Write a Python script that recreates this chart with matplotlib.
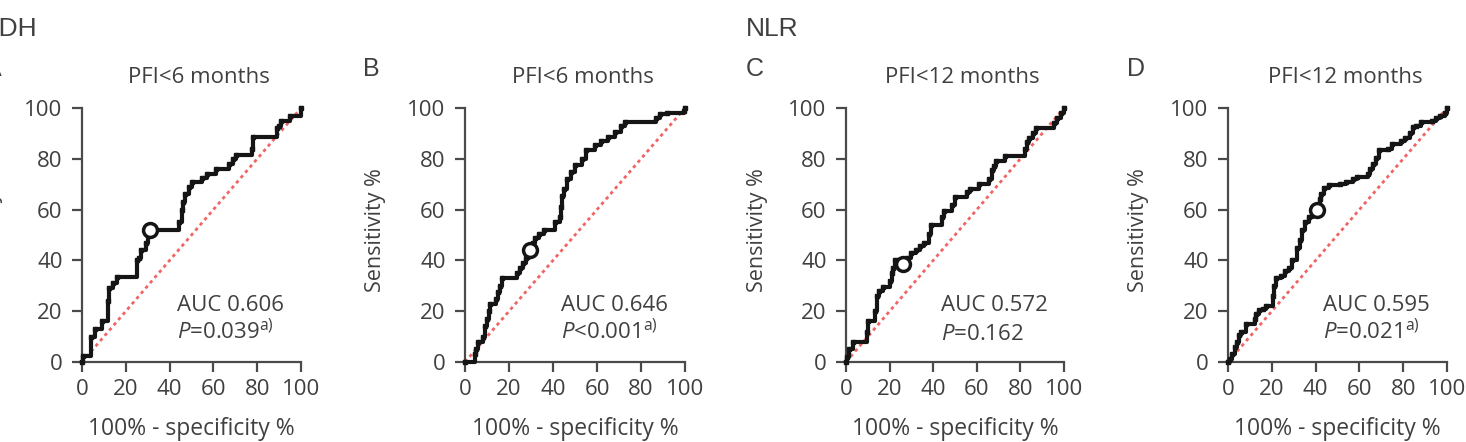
import matplotlib.pyplot as plt

plt.rcParams['font.family'] = ['Open Sans', 'DejaVu Sans']
plt.rcParams['mathtext.fontset'] = 'custom'
plt.rcParams['mathtext.rm'] = 'Open Sans'
plt.rcParams['mathtext.it'] = 'Open Sans:italic'

# ROC curves, (100% - specificity, sensitivity) at each step
fpr_a = [0, 0.5, 4, 6, 9, 12, 12.5, 14, 16, 25, 26, 27, 29, 30, 31.5, 44.5, 45.5, 46, 47, 49,
         50, 55, 57, 61, 67, 69, 70.5, 77.5, 78, 89, 90, 91, 95, 100]
tpr_a = [0, 2.5, 10, 13, 16, 24, 29, 31, 33.5, 40, 41, 44, 47, 50, 52, 55, 60, 63, 66, 69,
         71, 72.5, 74, 76, 78, 80, 81.5, 84, 88.5, 92, 93, 95, 97, 100]

fpr_b = [0, 4.5, 5, 6, 8, 9, 10, 11, 11.5, 14, 15, 16, 17, 23.5, 25, 26.5, 27.5, 29, 30, 31,
         32, 33.5, 36, 41, 43, 43.5, 44, 45, 46.5, 48, 50, 53, 55, 59, 62, 65, 68, 71, 72.5,
         87, 88.5, 92, 99.5, 100]
tpr_b = [0, 3, 5, 8, 10, 14, 17, 20, 23, 25, 27.5, 30, 33, 35, 37, 39, 41, 43, 45, 47,
         49, 50.5, 52, 55, 57, 61, 65.5, 68, 72, 75, 77.5, 80, 83.5, 85.5, 87, 88.5, 90.5, 93, 94.5,
         96, 97.5, 98, 99, 100]

fpr_c = [0, 0.5, 1.5, 3, 9.5, 10, 13.5, 14, 15, 17, 20, 21, 21.5, 22.5, 28, 30, 32, 34, 36, 38,
         39, 44, 45, 48.5, 50, 55.5, 57, 61, 65.5, 67, 68, 69, 73, 82, 83, 84, 86, 87, 95.5,
         97, 98.5, 100]
tpr_c = [0, 2, 5, 8, 12, 16, 20, 26, 28, 29.5, 32, 35, 37, 40, 41, 43, 44, 45.5, 47, 50.5,
         54, 57, 59.5, 62, 65, 67, 68, 70, 72, 75.5, 77, 79, 81, 84, 86.5, 88, 90, 92, 94,
         96, 98, 100]

fpr_d = [0, 1, 2, 3, 4, 5, 6, 8, 12.5, 13, 14, 16, 17.5, 20.5, 21, 22, 24, 26, 28, 29,
         31.5, 33, 34, 35, 37, 39, 41, 42, 42.5, 44, 46, 51, 54, 57, 59, 64, 65, 66, 67.5, 69,
         73, 75, 79, 81, 83, 84.5, 86, 88, 93, 95, 97, 99, 100]
tpr_d = [0, 1, 3, 6, 8, 10.5, 12, 15, 17, 19, 20.5, 21, 22, 26, 30, 33, 34, 36, 37, 40,
         45, 48, 52, 55, 57, 59, 62, 64, 66, 68.5, 69.5, 70, 71, 72, 73, 74, 76, 78, 80.5, 83.5,
         84, 86, 87, 88, 90, 92.5, 93, 94.5, 95, 96, 97, 98, 100]

cut_x = [31.2, 29.4, 26, 40.5]
cut_y = [51.8, 44, 38.5, 60]

chance = [0, 100]
titles = ['PFI<6 months', 'PFI<6 months', 'PFI<12 months', 'PFI<12 months']
auc = ['AUC 0.606', 'AUC 0.646', 'AUC 0.572', 'AUC 0.595']
pvals = [r'$\mathit{P}$=0.039$^{\mathrm{a)}}$', r'$\mathit{P}$<0.001$^{\mathrm{a)}}$',
         r'$\mathit{P}$=0.162', r'$\mathit{P}$=0.021$^{\mathrm{a)}}$']
letters = ['A', 'B', 'C', 'D']
ticks = [0, 20, 40, 60, 80, 100]

fprs = [fpr_a, fpr_b, fpr_c, fpr_d]
tprs = [tpr_a, tpr_b, tpr_c, tpr_d]

txt = '#404040'
lefts = [82, 465, 846, 1228]
widths = [219, 220, 218, 219]

fig = plt.figure(figsize=(14.66, 4.42), dpi=100)

for i in range(4):
    ax = fig.add_axes([lefts[i] / 1466, 1 - 362 / 442, widths[i] / 1466, 254 / 442])
    ax.plot(chance, chance, color='#f06464', lw=2, linestyle=(0, (1.2, 1.3)), clip_on=False)
    ax.plot(fprs[i], tprs[i], drawstyle='steps-post', color='#151515', lw=3,
            marker='s', ms=3, clip_on=False, zorder=3)
    ax.plot(cut_x[i], cut_y[i], 'o', ms=10, mfc='white', mec='#151515', mew=2.5,
            clip_on=False, zorder=4)

    ax.set_xlim(0, 100)
    ax.set_ylim(0, 100)
    ax.set_xticks(ticks)
    ax.set_yticks(ticks)
    for s in ['top', 'right']:
        ax.spines[s].set_visible(False)
    for s in ['left', 'bottom']:
        ax.spines[s].set_linewidth(1.6)
        ax.spines[s].set_color('#4a4a4a')
    ax.tick_params(axis='both', length=7, width=1.6, color='#4a4a4a', labelcolor=txt,
                   labelsize=16)
    ax.tick_params(axis='y', pad=7)
    ax.tick_params(axis='x', pad=5)

    ax.set_xlabel('100% - specificity %', fontsize=16.5, color=txt)
    ax.xaxis.set_label_coords(0.5, -0.215)
    ax.set_ylabel('Sensitivity %', fontsize=15.5, color=txt)
    ax.yaxis.set_label_coords(-0.36, 0.52)

    ax.text(0.534, 1.10, titles[i], transform=ax.transAxes, ha='center', va='baseline',
            fontsize=16, color=txt)
    ax.text(0.435, 0.20, auc[i], transform=ax.transAxes, ha='left', va='baseline',
            fontsize=16, color=txt)
    ax.text(0.435, 0.088, pvals[i], transform=ax.transAxes, ha='left', va='baseline',
            fontsize=16, color=txt)

letter_x = [-15, 363, 746, 1127]
for i in range(4):
    fig.text(letter_x[i] / 1466, 1 - 76 / 442, letters[i], fontsize=18, color=txt,
             family='Liberation Sans', va='baseline')

fig.text(-15 / 1466, 1 - 36 / 442, 'LDH', fontsize=19, color=txt, family='Liberation Sans',
         va='baseline')
fig.text(746 / 1466, 1 - 36 / 442, 'NLR', fontsize=19, color=txt, family='Liberation Sans',
         va='baseline')

fig.savefig('out.png', dpi=100)
